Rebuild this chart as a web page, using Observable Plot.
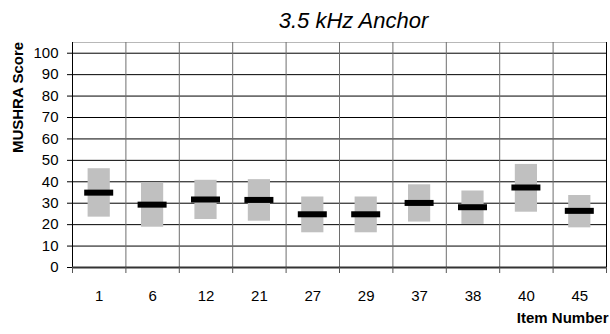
<!DOCTYPE html>
<html>
<head>
<meta charset="utf-8">
<script src="https://cdn.jsdelivr.net/npm/d3@7"></script>
<script src="https://cdn.jsdelivr.net/npm/@observablehq/plot@0.6"></script>
<style>
  html, body { margin: 0; padding: 0; background: #fff; }
  #chart svg { display: block; }
</style>
</head>
<body>
<div id="chart"></div>
<script>
// Test items (x categories)
const items = ["1", "6", "12", "21", "27", "29", "37", "38", "40", "45"];
// Mean MUSHRA score per item
const means = [34.7, 29.1, 31.5, 31.3, 24.6, 24.6, 29.9, 27.9, 37.1, 26.2];
// Lower and upper ends of the confidence interval
const lows  = [23.5, 18.8, 22.4, 21.6, 16.2, 16.2, 21.2, 20.1, 25.8, 18.5];
const highs = [46.1, 39.4, 40.7, 41.0, 32.9, 32.9, 38.6, 35.7, 48.1, 33.6];
// Score axis ticks
const yTicks = [0, 10, 20, 30, 40, 50, 60, 70, 80, 90, 100];

const title = "3.5 kHz Anchor";
const yLabel = "MUSHRA Score";
const xLabel = "Item Number";

// Each item occupies one unit slot [i, i+1] on a linear x scale
const rows = items.map((item, i) => ({item, i, mean: means[i], low: lows[i], high: highs[i]}));
const slotEdges = d3.range(items.length + 1);
const innerEdges = slotEdges.slice(1, -1);
const outerEdges = [slotEdges[0], slotEdges[slotEdges.length - 1]];
const yTop = 105;
const font = "'Liberation Sans', Arial, sans-serif";

const chart = Plot.plot({
  width: 610,
  height: 334,
  marginLeft: 72,
  marginRight: 4,
  marginTop: 42,
  marginBottom: 67,
  style: {fontFamily: font, background: "#fff", color: "#000"},
  x: {domain: [0, items.length]},
  y: {domain: [0, yTop]},
  marks: [
    Plot.gridY(yTicks, {stroke: "#000", strokeOpacity: 1}),
    Plot.ruleY([yTop], {stroke: "#b8b8b8"}),
    Plot.ruleX(innerEdges, {y1: 0, y2: yTop, stroke: "#6e6e6e"}),
    Plot.ruleX(outerEdges, {y1: 0, y2: yTop, stroke: "#000"}),
    // confidence interval boxes
    Plot.rect(rows, {
      x1: d => d.i, x2: d => d.i + 1, y1: "low", y2: "high",
      fill: "#c0c0c0", insetLeft: 15.6, insetRight: 15.6
    }),
    // mean bars
    Plot.rect(rows, {
      x1: d => d.i, x2: d => d.i + 1, y1: "mean", y2: "mean",
      fill: "#000", insetLeft: 12.2, insetRight: 12.2, insetTop: -3, insetBottom: -3
    }),
    Plot.ruleY([0], {stroke: "#333", strokeWidth: 2}),
    Plot.axisY({ticks: yTicks, tickSize: 5, tickPadding: 9, fontSize: 15, label: null, stroke: "#000"}),
    Plot.axisX({ticks: slotEdges, tickSize: 6, tickFormat: () => "", label: null, stroke: "#555"}),
    Plot.axisX({
      ticks: rows.map(d => d.i + 0.5),
      tickFormat: v => items[Math.round(v - 0.5)],
      tickSize: 0, tickPadding: 23, fontSize: 15, label: null
    }),
    Plot.text([title], {
      frameAnchor: "top", dx: 14, dy: -22, lineAnchor: "middle",
      fontSize: 22, fontStyle: "italic", fill: "#000"
    }),
    Plot.text([xLabel], {
      frameAnchor: "bottom-right", dx: 2, dy: 51, textAnchor: "end", lineAnchor: "middle",
      fontSize: 15, fontWeight: "bold", fill: "#000"
    })
  ]
});

// Vertical score-axis title, left of the tick labels
d3.select(chart).append("text")
  .attr("transform", "translate(23,97.5) rotate(-90)")
  .attr("text-anchor", "middle")
  .attr("font-family", font)
  .attr("font-size", 15)
  .attr("font-weight", "bold")
  .attr("fill", "#000")
  .text(yLabel);

document.getElementById("chart").appendChild(chart);
</script>
</body>
</html>
